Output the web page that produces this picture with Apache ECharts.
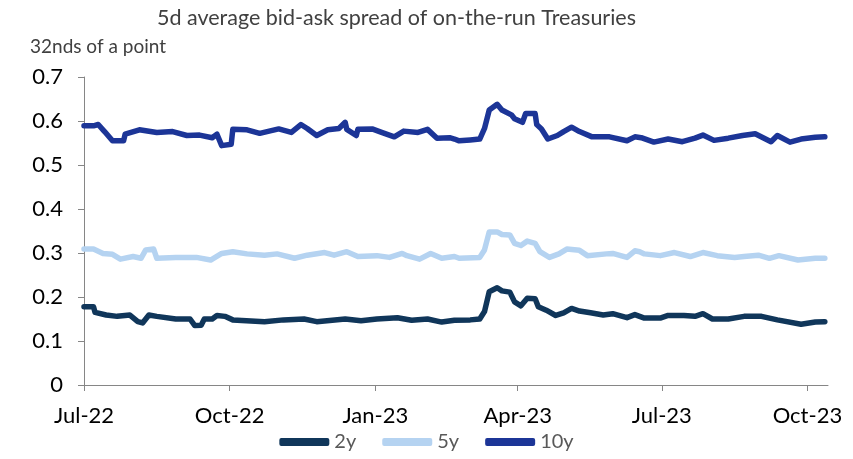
<!DOCTYPE html>
<html>
<head>
<meta charset="utf-8">
<script src="https://cdn.jsdelivr.net/npm/echarts@6/dist/echarts.min.js"></script>
<style>
html,body{margin:0;padding:0;background:#fff;}
#chart{width:853px;height:459px;}
</style>
</head>
<body>
<div id="chart"></div>
<script>
const titleText = '5d average bid-ask spread of on-the-run Treasuries';
const unitText = '32nds of a point';
const seriesNames = ['2y', '5y', '10y'];
const tickDates = ['2022-07-01', '2022-10-01', '2023-01-01', '2023-04-01', '2023-07-01', '2023-10-01'];
const tickLabels = ['Jul-22', 'Oct-22', 'Jan-23', 'Apr-23', 'Jul-23', 'Oct-23'];
const yTicks = [0, 0.1, 0.2, 0.3, 0.4, 0.5, 0.6, 0.7];

const s2y = [
  ['2022-07-01',0.178],['2022-07-07',0.178],['2022-07-08',0.165],['2022-07-15',0.159],['2022-07-22',0.156],
  ['2022-07-30',0.159],['2022-08-04',0.144],['2022-08-07',0.141],['2022-08-11',0.159],['2022-08-16',0.156],
  ['2022-08-28',0.150],['2022-09-06',0.150],['2022-09-09',0.135],['2022-09-13',0.136],['2022-09-15',0.150],
  ['2022-09-20',0.150],['2022-09-23',0.158],['2022-09-28',0.156],['2022-10-03',0.148],['2022-10-23',0.144],
  ['2022-11-04',0.148],['2022-11-17',0.150],['2022-11-25',0.144],['2022-12-13',0.150],['2022-12-23',0.146],
  ['2023-01-02',0.150],['2023-01-15',0.153],['2023-01-24',0.147],['2023-02-03',0.150],['2023-02-12',0.143],
  ['2023-02-20',0.147],['2023-03-02',0.148],['2023-03-08',0.150],['2023-03-11',0.167],['2023-03-14',0.212],
  ['2023-03-19',0.221],['2023-03-22',0.214],['2023-03-27',0.211],['2023-03-30',0.189],['2023-04-03',0.180],
  ['2023-04-07',0.197],['2023-04-12',0.196],['2023-04-14',0.178],['2023-04-19',0.170],['2023-04-25',0.158],
  ['2023-04-30',0.164],['2023-05-05',0.174],['2023-05-10',0.168],['2023-05-17',0.164],['2023-05-25',0.159],
  ['2023-05-31',0.162],['2023-06-09',0.153],['2023-06-14',0.160],['2023-06-20',0.152],['2023-06-30',0.152],
  ['2023-07-05',0.158],['2023-07-15',0.158],['2023-07-22',0.156],['2023-07-27',0.162],['2023-08-02',0.150],
  ['2023-08-12',0.150],['2023-08-22',0.156],['2023-09-02',0.156],['2023-09-12',0.148],['2023-09-27',0.138],
  ['2023-10-06',0.143],['2023-10-12',0.144]
];
const s5y = [
  ['2022-07-01',0.309],['2022-07-07',0.309],['2022-07-13',0.299],['2022-07-19',0.297],['2022-07-24',0.286],
  ['2022-08-01',0.292],['2022-08-06',0.288],['2022-08-09',0.307],['2022-08-14',0.309],['2022-08-16',0.288],
  ['2022-08-28',0.290],['2022-09-10',0.290],['2022-09-19',0.284],['2022-09-26',0.299],['2022-10-03',0.303],
  ['2022-10-12',0.298],['2022-10-23',0.295],['2022-10-31',0.298],['2022-11-11',0.288],['2022-11-19',0.295],
  ['2022-11-30',0.301],['2022-12-06',0.295],['2022-12-14',0.303],['2022-12-21',0.292],['2023-01-02',0.294],
  ['2023-01-10',0.290],['2023-01-18',0.299],['2023-01-21',0.294],['2023-01-29',0.286],['2023-02-05',0.299],
  ['2023-02-12',0.288],['2023-02-20',0.292],['2023-02-23',0.288],['2023-03-08',0.290],['2023-03-11',0.307],
  ['2023-03-14',0.348],['2023-03-19',0.348],['2023-03-22',0.342],['2023-03-27',0.341],['2023-03-30',0.322],
  ['2023-04-03',0.317],['2023-04-07',0.327],['2023-04-12',0.322],['2023-04-15',0.303],['2023-04-21',0.290],
  ['2023-04-27',0.298],['2023-05-02',0.309],['2023-05-10',0.306],['2023-05-15',0.294],['2023-05-27',0.298],
  ['2023-05-31',0.299],['2023-06-09',0.290],['2023-06-14',0.305],['2023-06-17',0.303],['2023-06-20',0.298],
  ['2023-06-30',0.294],['2023-07-09',0.301],['2023-07-19',0.292],['2023-07-27',0.301],['2023-08-05',0.294],
  ['2023-08-16',0.290],['2023-08-22',0.292],['2023-08-31',0.295],['2023-09-07',0.288],['2023-09-13',0.294],
  ['2023-09-25',0.284],['2023-10-06',0.288],['2023-10-12',0.288]
];
const s10y = [
  ['2022-07-01',0.589],['2022-07-07',0.589],['2022-07-10',0.592],['2022-07-14',0.576],['2022-07-19',0.555],
  ['2022-07-26',0.555],['2022-07-27',0.570],['2022-08-05',0.580],['2022-08-16',0.574],['2022-08-26',0.576],
  ['2022-09-04',0.567],['2022-09-12',0.568],['2022-09-20',0.562],['2022-09-23',0.570],['2022-09-26',0.544],
  ['2022-10-02',0.547],['2022-10-03',0.581],['2022-10-12',0.580],['2022-10-20',0.572],['2022-10-26',0.577],
  ['2022-11-01',0.582],['2022-11-09',0.574],['2022-11-15',0.592],['2022-11-19',0.583],['2022-11-25',0.567],
  ['2022-12-02',0.580],['2022-12-09',0.583],['2022-12-13',0.597],['2022-12-14',0.581],['2022-12-20',0.567],
  ['2022-12-21',0.581],['2022-12-30',0.582],['2023-01-05',0.574],['2023-01-13',0.564],['2023-01-19',0.577],
  ['2023-01-28',0.574],['2023-02-03',0.581],['2023-02-09',0.561],['2023-02-17',0.562],['2023-02-20',0.559],
  ['2023-02-23',0.555],['2023-03-02',0.557],['2023-03-08',0.559],['2023-03-11',0.583],['2023-03-14',0.625],
  ['2023-03-19',0.638],['2023-03-22',0.625],['2023-03-28',0.614],['2023-03-30',0.605],['2023-04-04',0.597],
  ['2023-04-06',0.617],['2023-04-12',0.617],['2023-04-13',0.592],['2023-04-16',0.582],['2023-04-20',0.559],
  ['2023-04-26',0.567],['2023-04-30',0.576],['2023-05-05',0.586],['2023-05-10',0.576],['2023-05-18',0.564],
  ['2023-05-29',0.564],['2023-06-09',0.555],['2023-06-14',0.564],['2023-06-18',0.562],['2023-06-26',0.552],
  ['2023-07-05',0.559],['2023-07-14',0.553],['2023-07-22',0.561],['2023-07-27',0.568],['2023-08-03',0.556],
  ['2023-08-12',0.561],['2023-08-21',0.567],['2023-08-29',0.571],['2023-09-03',0.562],['2023-09-08',0.553],
  ['2023-09-12',0.567],['2023-09-20',0.552],['2023-09-27',0.559],['2023-10-06',0.563],['2023-10-12',0.564]
];

const colors = ['#10365a', '#b5d3f1', '#1c3597'];
const font = 'Lato, "Open Sans", sans-serif';
const ts = s => new Date(s + 'T00:00:00Z').getTime();
const tickTs = tickDates.map(ts);

const chart = echarts.init(document.getElementById('chart'), null, {renderer: 'canvas'});
const mk = (name, data, i) => ({
  name: name, type: 'line', data: data.map(d => [ts(d[0]), d[1]]),
  showSymbol: false, symbol: 'none', smooth: false, z: 3 + i,
  lineStyle: {color: colors[i], width: 5.5, join: 'round', cap: 'round'},
  itemStyle: {color: colors[i]}
});
chart.setOption({
  animation: false,
  title: [
    {text: titleText, left: 152, top: 2, textStyle: {fontFamily: font, fontSize: 21.5, fontWeight: 'normal', color: '#404040'}},
    {text: unitText, left: 25, top: 32, textStyle: {fontFamily: font, fontSize: 19, fontWeight: 'normal', color: '#404040'}}
  ],
  legend: {
    data: seriesNames, bottom: 2, left: 'center', itemWidth: 50, itemHeight: 8, itemGap: 26,
    icon: 'roundRect',
    textStyle: {fontFamily: font, fontSize: 20, color: '#595959'}
  },
  grid: {left: 84, right: 25, top: 77, bottom: 74, containLabel: false},
  xAxis: {
    type: 'value', min: ts('2022-07-01'), max: ts('2023-10-14'),
    axisLine: {lineStyle: {color: '#868686', width: 1}},
    axisTick: {show: true, length: 6, customValues: tickTs, lineStyle: {color: '#868686'}},
    axisLabel: {customValues: tickTs, margin: 20, fontFamily: font, fontSize: 22, color: '#000',
      formatter: v => { const k = tickTs.indexOf(v); return k >= 0 ? tickLabels[k] : ''; }},
    splitLine: {show: false}
  },
  yAxis: {
    type: 'value', min: 0, max: 0.7, interval: 0.1,
    axisLine: {show: true, lineStyle: {color: '#868686', width: 1}},
    axisTick: {show: true, length: 6, lineStyle: {color: '#868686'}},
    axisLabel: {margin: 21, fontFamily: font, fontSize: 22, color: '#000',
      formatter: v => { const t = yTicks.find(t => Math.abs(t - v) < 1e-9); return String(t !== undefined ? t : v); }},
    splitLine: {show: false}
  },
  series: [mk(seriesNames[0], s2y, 0), mk(seriesNames[1], s5y, 1), mk(seriesNames[2], s10y, 2)]
});
</script>
</body>
</html>
